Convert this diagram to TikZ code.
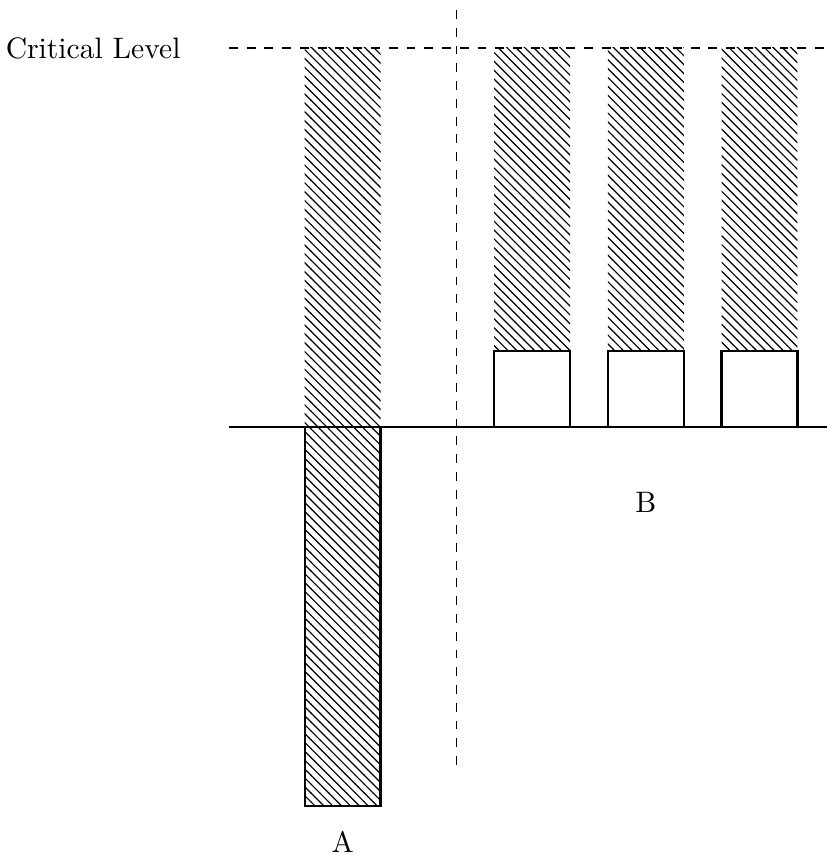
\documentclass[tikz,border=0pt]{standalone}
\usetikzlibrary{patterns}
\tikzset{
  hatch/.style={pattern=north west lines},
  boxline/.style={thick},
  guide/.style={dashed, line width=0.4pt},
}
\begin{document}
\begin{tikzpicture}[x=0.9cm, y=0.9cm]
  \useasboundingbox (-4.02,-5.646) rectangle (6.887,5.633);
  % hatched columns up to the critical level
  \fill[hatch] (0,0) rectangle (1,5);
  \fill[hatch] (0,-5) rectangle (1,0);
  \foreach \x in {2.5,4,5.5}{
    \fill[hatch] (\x,1) rectangle (\x+1,5);
    \draw[boxline, fill=white] (\x,0) rectangle (\x+1,1);
  }
  \draw[boxline] (0,-5) rectangle (1,0);
  % ground line, critical level and divider
  \draw (-1,0) -- (7,0);
  \draw[guide] (-1,5) -- (7,5);
  \draw[guide] (2,5.5) -- (2,-4.5);
  % labels
  \node[left] (crit) at (-1.5,5) {Critical Level};
  \node[inner sep=0.5pt] (labA) at (0.5,-5.47) {A};
  \node (labB) at (4.5,-1) {B};
\end{tikzpicture}
\end{document}
